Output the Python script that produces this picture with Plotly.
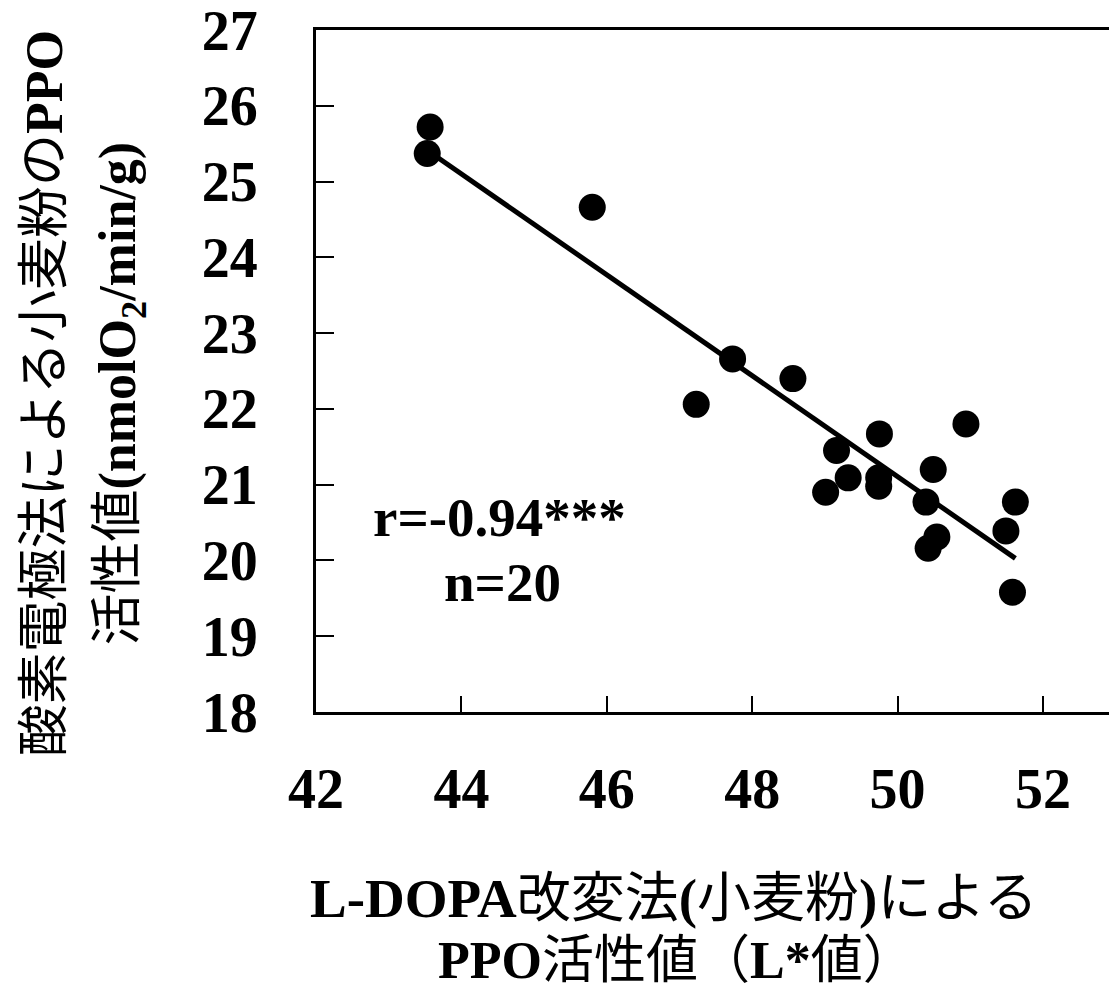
import numpy as np
import plotly.graph_objects as go

# L* values (x) and O2-electrode PPO activity (y)
lstar = [43.57, 43.53, 45.80, 47.23, 47.73, 48.56, 49.16, 49.01, 49.32, 49.75,
         49.74, 49.74, 50.94, 50.49, 50.39, 50.54, 50.42, 51.62, 51.49, 51.58]
ppo = [25.72, 25.37, 24.66, 22.06, 22.66, 22.40, 21.45, 20.90, 21.09, 21.67,
       21.09, 20.98, 21.80, 21.20, 20.77, 20.31, 20.16, 20.77, 20.39, 19.58]

x_ticks = [42, 44, 46, 48, 50, 52]
y_ticks = [18, 19, 20, 21, 22, 23, 24, 25, 26, 27]

r_text = "r=-0.94***"
n_text = "n=20"

SERIF = "Liberation Serif, 'Noto Sans CJK JP', serif"
FS = 52
TICK_FS = 56

x_arr = np.array(lstar)
y_arr = np.array(ppo)
slope, intercept = np.polyfit(x_arr, y_arr, 1)
fit_x = np.array([x_arr.min(), x_arr.max()])
fit_y = slope * fit_x + intercept

fig = go.Figure()
fig.add_trace(go.Scatter(x=fit_x, y=fit_y, mode="lines",
                         line=dict(color="black", width=5), showlegend=False,
                         hoverinfo="skip"))
fig.add_trace(go.Scatter(x=lstar, y=ppo, mode="markers",
                         marker=dict(color="black", size=27, line=dict(width=0)),
                         showlegend=False))

axis_common = dict(showgrid=False, zeroline=False, showline=True, linecolor="black",
                   linewidth=3, ticks="inside", tickcolor="black", tickwidth=1.5,
                   ticklabeloverflow="allow",
                   tickfont=dict(family=SERIF, size=TICK_FS, color="black", weight="bold"))

L, R, T, B = 316, 0, 26, 284
W, H = 1109, 996
x_max = 42 + (W - L - R) / 72.7

fig.update_xaxes(range=[42, x_max], tickvals=x_ticks, ticktext=[str(v) for v in x_ticks],
                 ticklen=16, mirror=True, ticklabelstandoff=26, **axis_common)
fig.update_yaxes(range=[18, 27], tickvals=y_ticks, ticktext=[str(v) for v in y_ticks],
                 ticklen=18, mirror=False, ticklabelstandoff=44, **axis_common)

LAT = "<b><span style='font-size:55px'>{}</span></b>"

annos = [
    dict(text="<b>" + r_text + "</b>", x=44.53, y=20.57, xref="x", yref="y", size=55),
    dict(text="<b>" + n_text + "</b>", x=44.57, y=19.71, xref="x", yref="y", size=55),
    dict(text=LAT.format("L-DOPA") + "改変法" + LAT.format("(") + "小麦粉" + LAT.format(")") + "による",
         xpx=674, y=-0.274, xref="paper", yref="paper", size=54),
    dict(text="<b>PPO</b>活性値（<b>L*</b>値）", xpx=676, y=-0.364,
         xref="paper", yref="paper"),
    dict(text="酸素電極法による小麦粉の<b>PPO</b>", xpx=45, y=0.467,
         xref="paper", yref="paper", textangle=-90),
    dict(text="活性値<b>(nmolO<sub>2</sub>/min/g)</b>", xpx=122, y=0.467,
         xref="paper", yref="paper", textangle=-90),
]
for a in annos:
    xpx = a.pop("xpx", None)
    if xpx is not None:
        a["x"] = (xpx - L) / (W - L - R)
    size = a.pop("size", FS)
    fig.add_annotation(showarrow=False, xanchor="center", yanchor="middle",
                       font=dict(family=SERIF, size=size, color="black"), **a)

fig.update_layout(width=W, height=H, margin=dict(l=L, r=R, t=T, b=B),
                  plot_bgcolor="white", paper_bgcolor="white")
fig.write_html("out.html")
